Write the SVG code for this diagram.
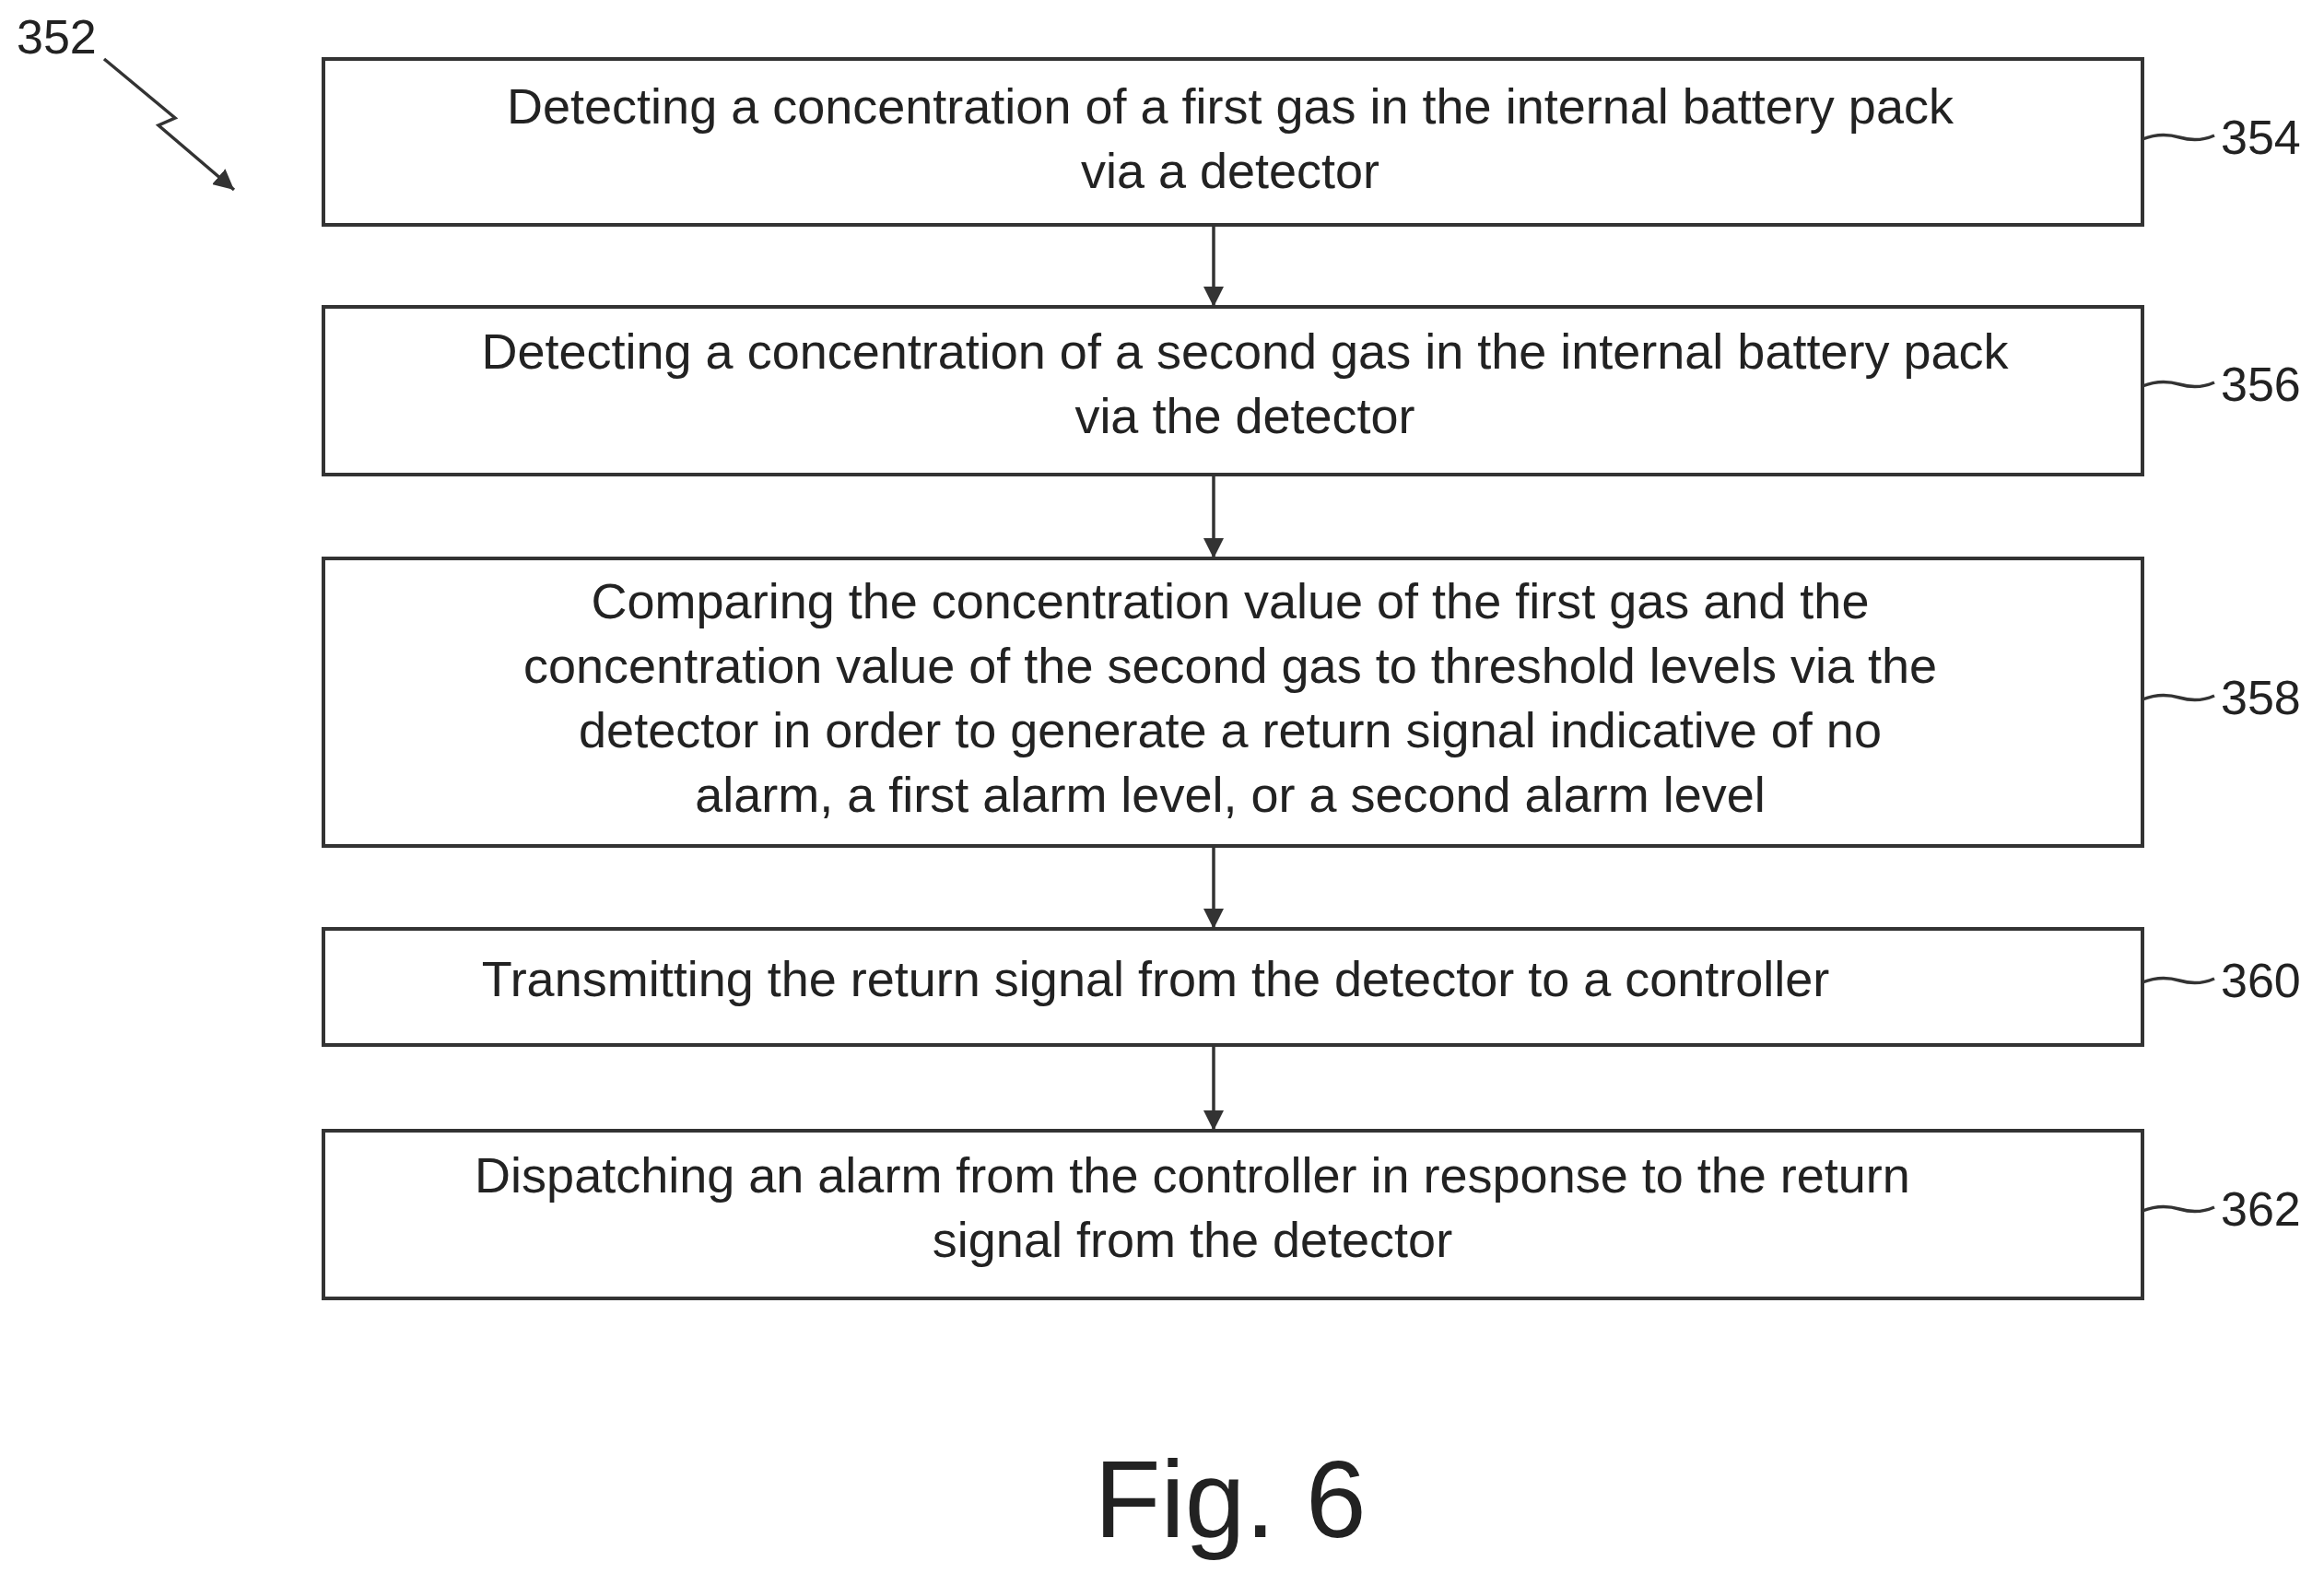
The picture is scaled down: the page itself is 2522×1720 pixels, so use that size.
<svg xmlns="http://www.w3.org/2000/svg" width="2522" height="1720" viewBox="0 0 2522 1720">
<defs>
<style>
.box{fill:#fff;stroke:#333;stroke-width:4}
.t{font-family:"Liberation Sans",Arial,sans-serif;font-size:54px;fill:#222;text-anchor:middle}
.lbl{font-family:"Liberation Sans",Arial,sans-serif;font-size:52px;fill:#222}
.ln{fill:none;stroke:#333;stroke-width:3.5}
</style>
<marker id="a2" viewBox="0 0 10 10" refX="10" refY="5" markerWidth="22" markerHeight="22" orient="auto" markerUnits="userSpaceOnUse"><path d="M0,0 L10,5 L0,10 z" fill="#333"/></marker>
</defs>
<rect width="2522" height="1720" fill="#fff"/>
<g id="n354"><rect class="box" x="351" y="64" width="1974" height="180"/><text class="t" x="1335" y="134">Detecting a concentration of a first gas in the internal battery pack</text><text class="t" x="1335" y="204">via a detector</text></g>
<g id="n356"><rect class="box" x="351" y="333" width="1974" height="182"/><text class="t" x="1351" y="400">Detecting a concentration of a second gas in the internal battery pack</text><text class="t" x="1351" y="470">via the detector</text></g>
<g id="n358"><rect class="box" x="351" y="606" width="1974" height="312"/><text class="t" x="1335" y="671">Comparing the concentration value of the first gas and the</text><text class="t" x="1335" y="741">concentration value of the second gas to threshold levels via the</text><text class="t" x="1335" y="811">detector in order to generate a return signal indicative of no</text><text class="t" x="1335" y="881">alarm, a first alarm level, or a second alarm level</text></g>
<g id="n360"><rect class="box" x="351" y="1008" width="1974" height="126"/><text class="t" x="1254" y="1081">Transmitting the return signal from the detector to a controller</text></g>
<g id="n362"><rect class="box" x="351" y="1227" width="1974" height="182"/><text class="t" x="1294" y="1294">Dispatching an alarm from the controller in response to the return</text><text class="t" x="1294" y="1364">signal from the detector</text></g>
<g id="connectors">
<line class="ln" x1="1317" y1="244" x2="1317" y2="333" marker-end="url(#a2)"/>
<line class="ln" x1="1317" y1="515" x2="1317" y2="606" marker-end="url(#a2)"/>
<line class="ln" x1="1317" y1="918" x2="1317" y2="1008" marker-end="url(#a2)"/>
<line class="ln" x1="1317" y1="1134" x2="1317" y2="1227" marker-end="url(#a2)"/>
<path class="ln" d="M2325,151 q20,-8 40,-2 t38,-2"/>
<path class="ln" d="M2325,419 q20,-8 40,-2 t38,-2"/>
<path class="ln" d="M2325,759 q20,-8 40,-2 t38,-2"/>
<path class="ln" d="M2325,1066 q20,-8 40,-2 t38,-2"/>
<path class="ln" d="M2325,1314 q20,-8 40,-2 t38,-2"/>
<path class="ln" d="M113,64 L190,128 L172,136 L254,206" marker-end="url(#a2)"/>
</g>
<g id="labels">
<text class="lbl" x="2410" y="167">354</text>
<text class="lbl" x="2410" y="435">356</text>
<text class="lbl" x="2410" y="775">358</text>
<text class="lbl" x="2410" y="1082">360</text>
<text class="lbl" x="2410" y="1330">362</text>
<text class="lbl" x="18" y="58">352</text>
<text class="t" x="1335" y="1668" style="font-size:118px">Fig. 6</text>
</g>
</svg>
